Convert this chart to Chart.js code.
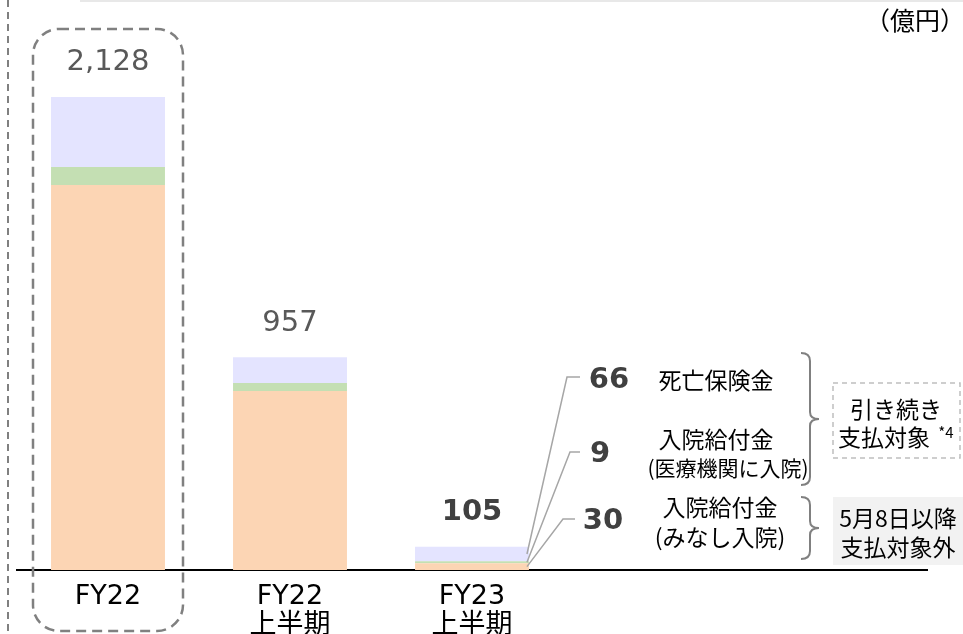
<!DOCTYPE html>
<html>
<head>
<meta charset="utf-8">
<script src="https://cdn.jsdelivr.net/npm/chart.js@4/dist/chart.umd.min.js"></script>
<style>
  body { margin: 0; background: #fff; }
  #wrap { width: 963px; height: 634px; position: relative; }
</style>
</head>
<body>
<div id="wrap"><canvas id="chart"></canvas></div>
<script>
// values in 億円
const categories = [['FY22'], ['FY22', '上半期'], ['FY23', '上半期']];
const deemedHospital = [1732, 805, 30];   // 入院給付金（みなし入院）
const medicalHospital = [81, 36, 9];      // 入院給付金（医療機関に入院）
const deathBenefit = [315, 116, 66];      // 死亡保険金
const unitLabel = '（億円）';

const FONT = '"DejaVu Sans", "Noto Sans CJK JP", sans-serif';
const JP = '"Noto Sans CJK JP", "DejaVu Sans", sans-serif';

// two empty slots keep the bars at the reference spacing
const labels = [...categories, '', ''];

const totals = categories.map((c, i) => deemedHospital[i] + medicalHospital[i] + deathBenefit[i]);

function brace(ctx, x, y1, y2, mid) {
  ctx.beginPath();
  ctx.moveTo(x - 9, y1);
  ctx.quadraticCurveTo(x, y1, x, y1 + 8);
  ctx.lineTo(x, mid - 7);
  ctx.quadraticCurveTo(x, mid, x + 9, mid);
  ctx.quadraticCurveTo(x, mid, x, mid + 7);
  ctx.lineTo(x, y2 - 8);
  ctx.quadraticCurveTo(x, y2, x - 9, y2);
  ctx.stroke();
}

function roundRect(ctx, x, y, w, h, r) {
  ctx.beginPath();
  ctx.moveTo(x + r, y);
  ctx.lineTo(x + w - r, y);
  ctx.arcTo(x + w, y, x + w, y + r, r);
  ctx.lineTo(x + w, y + h - r);
  ctx.arcTo(x + w, y + h, x + w - r, y + h, r);
  ctx.lineTo(x + r, y + h);
  ctx.arcTo(x, y + h, x, y + h - r, r);
  ctx.lineTo(x, y + r);
  ctx.arcTo(x, y, x + r, y, r);
  ctx.stroke();
}

const decorations = {
  id: 'decorations',
  afterDatasetsDraw(chart) {
    const { ctx, scales } = chart;
    ctx.save();

    // frame bits
    ctx.strokeStyle = '#e8e8e8';
    ctx.lineWidth = 2;
    ctx.beginPath(); ctx.moveTo(80, 1); ctx.lineTo(963, 1); ctx.stroke();

    ctx.strokeStyle = '#808080';
    ctx.setLineDash([7, 5]);
    ctx.beginPath(); ctx.moveTo(8, 0); ctx.lineTo(8, 634); ctx.stroke();

    ctx.lineWidth = 2.5;
    ctx.setLineDash([10, 6]);
    roundRect(ctx, 33, 29, 150, 602, 26);
    ctx.setLineDash([]);

    // totals above the bars
    ctx.textAlign = 'center';
    ctx.textBaseline = 'middle';
    totals.forEach((t, i) => {
      const x = scales.x.getPixelForValue(i);
      const y = scales.y.getPixelForValue(t) - 34;
      const last = i === totals.length - 1;
      ctx.font = (last ? 'bold ' : '') + '29px ' + FONT;
      ctx.fillStyle = last ? '#404040' : '#595959';
      ctx.fillText(t.toLocaleString('en-US'), x, y);
    });

    // unit
    ctx.textAlign = 'right';
    ctx.font = '25px ' + JP;
    ctx.fillStyle = '#000';
    ctx.fillText(unitLabel, 965, 20);

    // leader lines from the last bar
    const last = categories.length - 1;
    const ends = [[557, 377, 580], [560, 452, 580], [553, 519, 575]];
    const sets = [2, 1, 0];
    ctx.strokeStyle = '#a6a6a6';
    ctx.lineWidth = 1.5;
    sets.forEach((ds, k) => {
      const bar = chart.getDatasetMeta(ds).data[last];
      const bx = bar.x + bar.width / 2 - 2;
      const by = (bar.y + bar.base) / 2;
      const [ex, ey, hx] = ends[k];
      ctx.beginPath();
      ctx.moveTo(bx, by);
      ctx.lineTo(ex + 10, ey);
      ctx.lineTo(hx, ey);
      ctx.stroke();
    });

    // part values
    ctx.textAlign = 'center';
    ctx.font = 'bold 29px ' + FONT;
    ctx.fillStyle = '#404040';
    ctx.fillText(String(deathBenefit[last]), 609, 380);
    ctx.fillText(String(medicalHospital[last]), 600, 454);
    ctx.fillText(String(deemedHospital[last]), 603, 521);

    // part names
    ctx.font = '23px ' + JP;
    ctx.fillStyle = '#000';
    ctx.fillText('死亡保険金', 716, 380);
    ctx.fillText('入院給付金', 716, 439);
    ctx.fillText('入院給付金', 720, 507);
    ctx.fillText('(みなし入院)', 720, 537);
    ctx.font = '21px ' + JP;
    ctx.fillText('(医療機関に入院)', 728, 468);

    // braces
    ctx.strokeStyle = '#808080';
    ctx.lineWidth = 2;
    brace(ctx, 810, 353, 485, 419);
    brace(ctx, 810, 497, 559, 528);

    // status boxes
    ctx.strokeStyle = '#bfbfbf';
    ctx.lineWidth = 1.5;
    ctx.setLineDash([5, 4]);
    ctx.strokeRect(833, 383, 127, 75);
    ctx.setLineDash([]);
    ctx.fillStyle = '#000';
    ctx.font = '23px ' + JP;
    ctx.fillText('引き続き', 896, 409);
    ctx.fillText('支払対象', 884, 437);
    ctx.font = '15px ' + JP;
    ctx.fillText('*4', 946, 432);

    ctx.fillStyle = '#f2f2f2';
    ctx.fillRect(833, 497, 130, 68);
    ctx.fillStyle = '#000';
    ctx.font = '23px ' + JP;
    ctx.fillText('5月8日以降', 898, 518);
    ctx.fillText('支払対象外', 898, 547);

    ctx.restore();
  }
};

new Chart(document.getElementById('chart'), {
  type: 'bar',
  data: {
    labels: labels,
    datasets: [
      { label: '入院給付金（みなし入院）', data: deemedHospital, backgroundColor: '#fcd5b4' },
      { label: '入院給付金（医療機関に入院）', data: medicalHospital, backgroundColor: '#c4dfb3' },
      { label: '死亡保険金', data: deathBenefit, backgroundColor: '#e4e4ff' }
    ]
  },
  options: {
    responsive: true,
    maintainAspectRatio: false,
    animation: false,
    layout: { padding: { left: 17, right: 36, top: 0, bottom: 0 } },
    plugins: { legend: { display: false }, tooltip: { enabled: false } },
    datasets: { bar: { barPercentage: 0.626, categoryPercentage: 1, borderWidth: 0 } },
    scales: {
      x: {
        stacked: true,
        grid: { display: false, drawTicks: false },
        border: { display: true, color: '#000', width: 2 },
        ticks: {
          padding: 13,
          color: '#000',
          maxRotation: 0,
          autoSkip: false,
          font: { family: FONT, size: 27, lineHeight: 1.05 }
        },
        afterFit(scale) { scale.height = 64; }
      },
      y: {
        stacked: true,
        display: false,
        min: 0,
        max: 2564
      }
    }
  },
  plugins: [decorations]
});
</script>
</body>
</html>
